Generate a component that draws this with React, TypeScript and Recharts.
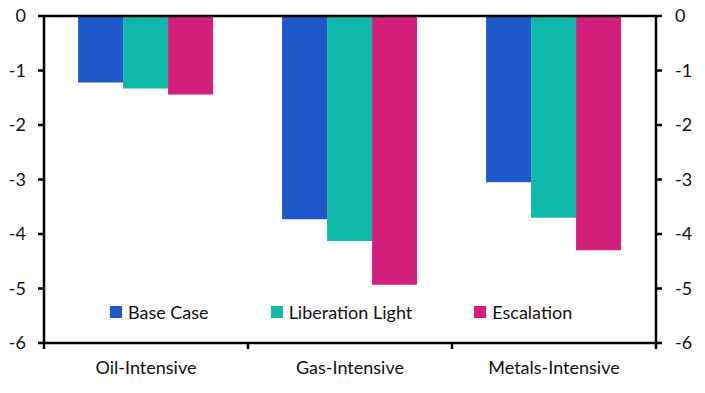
import React from 'react';
import {
  BarChart,
  Bar,
  XAxis,
  YAxis,
  ReferenceLine,
} from 'recharts';

const categories = ['Oil-Intensive', 'Gas-Intensive', 'Metals-Intensive'];
const seriesNames = ['Base Case', 'Liberation Light', 'Escalation'];
const baseCase = [-1.22, -3.73, -3.05];
const liberationLight = [-1.33, -4.13, -3.7];
const escalation = [-1.44, -4.93, -4.3];
const yTicks = [0, -1, -2, -3, -4, -5, -6];

const COLORS = ['#1F58C9', '#0EB9AA', '#D31F7B'];
const FONT = 'Lato, "Open Sans", sans-serif';
const X_TICK_SIZE = 6;
const X_TICK_MARGIN = 12;

const data = categories.map((name, i) => ({
  name,
  base: baseCase[i],
  light: liberationLight[i],
  esc: escalation[i],
}));

const keys = ['base', 'light', 'esc'];

// legend sits inside the plot area, near the bottom
const LegendOverlay = () => (
  <div
    style={{
      position: 'absolute',
      top: 301,
      left: 110,
      display: 'flex',
      alignItems: 'center',
      gap: 62,
      fontFamily: FONT,
      fontSize: 18,
      color: '#111',
    }}
  >
    {seriesNames.map((s, i) => (
      <div key={s} style={{ display: 'flex', alignItems: 'center', gap: 6 }}>
        <span style={{ width: 12, height: 12, background: COLORS[i], display: 'inline-block' }} />
        <span>{s}</span>
      </div>
    ))}
  </div>
);

// category label plus tick marks on the band edges (not at the band centre)
const CategoryTick = (props: any) => {
  const { x, y, payload, width, visibleTicksCount, index } = props;
  const band = width / visibleTicksCount;
  const axisY = y - X_TICK_SIZE - X_TICK_MARGIN;
  const edges = [x - band / 2];
  if (index === visibleTicksCount - 1) edges.push(x + band / 2);
  return (
    <g>
      {edges.map((ex, i) => (
        <line key={i} x1={ex} x2={ex} y1={axisY} y2={axisY + X_TICK_SIZE} stroke="#000" strokeWidth={2.5} />
      ))}
      <text x={x} y={y} dy="0.71em" textAnchor="middle" fill="#111" fontSize={18} fontFamily={FONT}>
        {payload.value}
      </text>
    </g>
  );
};

export default function App() {
  const tickStyle = { fill: '#111', fontSize: 18, fontFamily: FONT };
  return (
    <div style={{ position: 'absolute', left: 0, top: 0, width: 705, height: 393, background: '#fff' }}>
      <BarChart
        width={705}
        height={393}
        data={data}
        margin={{ top: 16, right: 0, bottom: 0, left: 0 }}
        barCategoryGap="16.7%"
        barGap={0}
      >
        <XAxis
          dataKey="name"
          height={50}
          axisLine={{ stroke: '#000', strokeWidth: 2.5 }}
          tickLine={false}
          tickSize={X_TICK_SIZE}
          tickMargin={X_TICK_MARGIN}
          tick={<CategoryTick />}
          interval={0}
        />
        <YAxis
          yAxisId="left"
          domain={[-6, 0]}
          ticks={yTicks}
          width={44}
          stroke="#000"
          strokeWidth={2.5}
          tickSize={6}
          tickMargin={12}
          tick={tickStyle}
        />
        <YAxis
          yAxisId="right"
          orientation="right"
          domain={[-6, 0]}
          allowDataOverflow
          ticks={yTicks}
          width={49}
          stroke="#000"
          strokeWidth={2.5}
          tickSize={6}
          tickMargin={13}
          tick={tickStyle}
        />
        <ReferenceLine yAxisId="left" y={0} stroke="#000" strokeWidth={2.5} />
        {keys.map((k, i) => (
          <Bar
            key={k}
            yAxisId="left"
            dataKey={k}
            name={seriesNames[i]}
            fill={COLORS[i]}
            isAnimationActive={false}
          />
        ))}
      </BarChart>
      <LegendOverlay />
    </div>
  );
}
